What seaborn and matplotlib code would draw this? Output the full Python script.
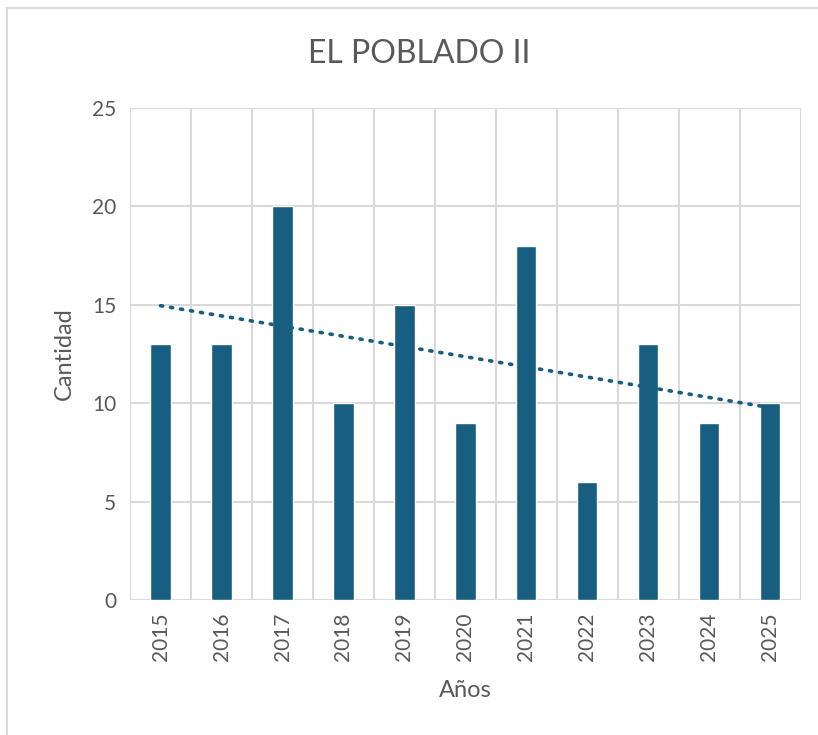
import seaborn as sns
import pandas as pd
import matplotlib.pyplot as plt
import matplotlib.patches as mpatches
import numpy as np

# datos
years = ['2015', '2016', '2017', '2018', '2019', '2020', '2021', '2022', '2023', '2024', '2025']
cantidad = [13, 13, 20, 10, 15, 9, 18, 6, 13, 9, 10]

bar_color = '#175E80'
text_color = '#595959'
grid_color = '#D9D9D9'

sns.set_style('white')
plt.rcParams['font.family'] = ['Lato', 'DejaVu Sans']

df = pd.DataFrame({'year': years, 'cantidad': cantidad})

fig = plt.figure(figsize=(8.18, 7.35), dpi=100)
ax = fig.add_axes([0.159, 0.1837, 0.820, 0.6693])

sns.barplot(data=df, x='year', y='cantidad', color=bar_color, width=0.33,
            saturation=1, ax=ax, zorder=3)

# linea de tendencia lineal
xs = np.arange(len(cantidad))
m, b = np.polyfit(xs, cantidad, 1)
ax.plot(xs, m * xs + b, color=bar_color, lw=2.6, linestyle=(0, (0.6, 2.2)),
        dash_capstyle='round', zorder=4)

ax.set_xlim(-0.5, len(years) - 0.5)
ax.set_ylim(0, 25)
ax.set_yticks(range(0, 26, 5))

for y in range(0, 26, 5):
    ax.axhline(y, color=grid_color, lw=1.5, zorder=1)
for x in np.arange(-0.5, len(years), 1):
    ax.axvline(x, color=grid_color, lw=1.5, zorder=1)

for s in ax.spines.values():
    s.set_visible(False)

ax.tick_params(axis='both', length=0, labelcolor=text_color, labelsize=15)
ax.tick_params(axis='y', pad=10)
ax.tick_params(axis='x', pad=9)
plt.setp(ax.get_xticklabels(), rotation=90)

ax.set_xlabel('Años', fontsize=17, color=text_color, labelpad=14)
ax.set_ylabel('Cantidad', fontsize=17, color=text_color, labelpad=12)
fig.suptitle('EL POBLADO II', fontsize=23, color=text_color, x=0.512, y=0.947)

# borde del grafico
fig.patches.append(mpatches.Rectangle((0.008, -0.01), 1.0, 1.0 - 0.001, transform=fig.transFigure,
                                      fill=False, edgecolor=grid_color, lw=1.5))

fig.savefig('out.png', dpi=100)
